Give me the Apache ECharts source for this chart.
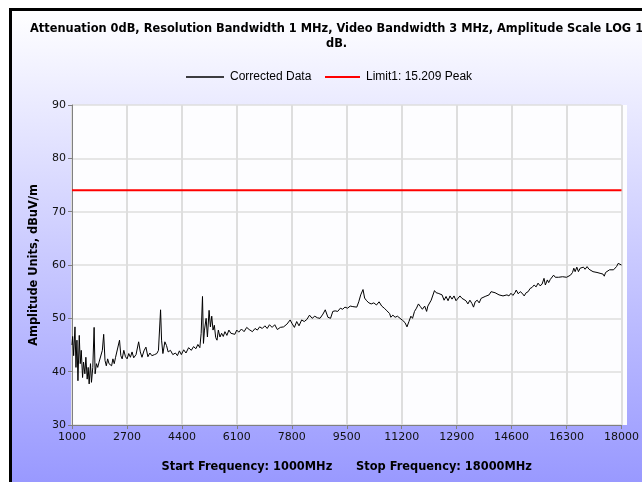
<!DOCTYPE html>
<html>
<head>
<meta charset="utf-8">
<script src="https://cdn.jsdelivr.net/npm/echarts@6/dist/echarts.min.js"></script>
<style>
html,body{margin:0;padding:0;background:#fff;}
#c{width:642px;height:483px;}
</style>
</head>
<body>
<div id="c"></div>
<script>
// ---- data ----
const START_MHZ = 1000;
const STOP_MHZ = 18000;
const freqMHz = [
1000,1020,1051,1092,1123,1153,1184,1225,1255,1286,1327,1357,1398,1429,1470,1500,1531,1572,1602,1643,
1684,1715,1756,1796,1837,1888,1939,1980,2021,2062,2103,2144,2184,2225,2266,2307,2348,2409,2470,2511,
2552,2603,2654,2705,2756,2807,2858,2909,2981,3062,3113,3165,3226,3287,3348,3410,3471,3553,3624,3675,
3740,3771,3812,3873,3924,3975,4046,4118,4200,4261,4322,4383,4455,4526,4608,4690,4761,4833,4894,4955,
4996,5037,5067,5098,5149,5190,5241,5282,5323,5363,5404,5445,5486,5527,5578,5629,5680,5731,5792,5854,
5915,5976,6037,6098,6160,6242,6323,6405,
6481,6582,6663,6734,6805,6887,6968,7039,7110,7191,7272,7353,7445,7546,7648,7749,7800,7881,7952,8023,
8105,8186,8267,8348,8429,8511,8592,8673,8764,8835,8917,8998,9069,9140,9221,9302,9373,9444,9526,9607,
9688,9749,9810,9871,9932,10003,10053,10114,10185,10256,10338,10419,10500,10581,10662,10744,10825,10865,10926,10997,
11068,11150,11231,11302,11363,11424,11484,11535,11596,11657,11718,11779,11840,11911,11971,
12009,12060,12112,12163,12214,12265,12327,12388,12449,12511,12572,12634,12695,12757,12818,12880,12941,13002,13064,13125,
13187,13248,13310,13371,13422,13473,13535,13596,13658,13719,13781,13842,13904,13965,14026,14088,14149,14211,14272,14334,
14395,14456,14518,14579,14641,14702,14743,14805,14866,14928,14989,15050,15112,15173,15235,15296,15358,15419,15480,15542,
15603,15644,15706,15747,15798,15849,15900,15952,16003,16054,16115,16177,16238,16300,16361,16423,16484,16525,16566,16617,
16668,16720,16771,16822,16873,16935,16996,17057,17119,17180,17242,17303,17364,17426,17467,17508,17569,17631,17692,17754,
17795,17846,17897,17948,18000
];
const correctedData = [
45,46.6,43,48.4,40.8,45.9,38.3,46.8,41.5,44,38.9,41.8,39.6,42.7,38.6,40.8,37.7,41.5,38,40.8,
48.3,39.6,41.5,40.8,41.8,41.5,44,47,42.1,41.1,42.4,41.5,41.8,41.1,42.4,41.5,42.7,42.4,45.9,43,
42.4,44,42.8,42.4,43.4,42.7,43.7,42.6,43.2,45.6,43.7,42.7,43.9,44.6,42.8,43.5,43,43.2,43.4,44,
51.6,45.9,43.4,45.6,44.9,43.7,44,43.2,43.5,43,43.9,43.2,44.1,43.5,44.5,44,44.7,44.3,45.1,44.5,
47.2,54.1,45.3,47.8,50,46.5,51.5,48.4,50.4,47.8,48.7,46.4,45.9,47.8,46.5,47.2,46.6,47.5,46.8,47.8,
47.2,47.5,47,47.8,47.4,48,47.5,48.3,
47.9,47.5,48.1,47.8,48.4,48.1,48.6,48.1,48.8,48.3,48.8,47.9,48.3,48.4,48.9,49.7,49.1,48.3,49.4,48.6,
49.7,49.4,49.8,50.6,50,50.4,50.1,50,50.8,51.6,50.2,50,51.3,51.4,51.3,51.9,51.7,52.1,51.9,52.3,
52.2,52.5,52.1,53.1,54.4,55.4,53.8,53.3,52.9,52.7,52.9,52.5,53.1,52.3,51.9,51.4,50.9,50.2,50.6,50.2,
50.4,50,49.6,49.2,48.4,49.4,50.4,50,51.3,51.9,52.7,52.2,51.7,52.3,51.3,
52.3,52.2,53.4,53.3,55.2,54.8,54.7,54.8,54.4,53.4,54.1,53.3,54.2,53.6,54.2,53.3,53.6,54.2,53.75,54.1,
53.3,52.7,53.4,52.8,52.1,53.1,53.4,52.9,53.75,53.4,54.1,53.75,54.4,55,54.7,54.8,54.6,54.4,54.6,54.2,
54.1,54.4,54.2,54.7,54.3,54.8,55.3,54.6,55,54.7,54.2,54.8,55,55.6,55.8,56.25,55.9,56.6,56.1,56.4,
57.5,56.25,57.2,56.7,57.3,57.2,58.1,57.7,57.9,57.7,57.5,57.8,57.5,57.7,57.9,58.1,58.6,59.4,58.75,59.6,
58.75,59.4,59.1,59.6,59.2,59.7,59.2,59.4,58.75,58.9,58.6,58.75,58.4,58.3,57.9,58.6,58.9,59.1,59.2,59.1,
59.4,59.7,60.3,60.2,60
];
const limitFreqMHz = [1000, 18000];
const limitValues = [74, 74];
const TICK_STEP_MHZ = 1700;
const Y_MIN = 30, Y_MAX = 90, Y_STEP = 10;

const titleLine1 = 'Attenuation 0dB, Resolution Bandwidth 1 MHz, Video Bandwidth 3 MHz, Amplitude Scale LOG 10';
const titleLine2 = 'dB.';
const seriesNames = ['Corrected Data', 'Limit1: 15.209 Peak'];
const xAxisTitle = 'Start Frequency: 1000MHz      Stop Frequency: 18000MHz';
const yAxisTitle = 'Amplitude Units, dBuV/m';

// x positions are offsets from the start frequency so ticks fall on 1000 + k*1700
const mainPts = freqMHz.map((f, i) => [f - START_MHZ, correctedData[i]]);
const limitPts = limitFreqMHz.map((f, i) => [f - START_MHZ, limitValues[i]]);

const chart = echarts.init(document.getElementById('c'), null, {renderer: 'canvas'});
const labelFont = {fontFamily: 'DejaVu Sans', fontSize: 11, color: '#111'};
const boldFont = {fontFamily: 'DejaVu Sans', fontWeight: 'bold', fontSize: 11.4, color: '#000'};
chart.setOption({
  animation: false,
  backgroundColor: '#ffffff',
  graphic: [
    {type: 'rect', z: -10, shape: {x: 10, y: 9, width: 640, height: 473},
     style: {fill: new echarts.graphic.LinearGradient(0, 0, 0, 1, [
       {offset: 0, color: '#ffffff'}, {offset: 1, color: '#9999ff'}])}},
    {type: 'rect', z: -10, shape: {x: 72, y: 105, width: 555, height: 320}, style: {fill: '#fdfdff'}},
    {type: 'rect', z: 10, shape: {x: 9, y: 8, width: 640, height: 3}, style: {fill: '#000'}},
    {type: 'rect', z: 10, shape: {x: 9, y: 8, width: 3, height: 474}, style: {fill: '#000'}}
  ],
  title: [
    {text: titleLine1, left: 25, top: 19, textStyle: boldFont},
    {text: titleLine2, left: 321, top: 34, textStyle: boldFont}
  ],
  legend: [
    {data: [seriesNames[0]], left: 181, top: 66, icon: 'rect', itemWidth: 38, itemHeight: 1.4, itemGap: 0,
     textStyle: {fontFamily: 'Liberation Sans', fontSize: 12, color: '#000', padding: [0, 0, 0, 1]}},
    {data: [seriesNames[1]], left: 320, top: 66, icon: 'rect', itemWidth: 35, itemHeight: 2, itemGap: 0,
     textStyle: {fontFamily: 'Liberation Sans', fontSize: 12, color: '#000', padding: [0, 0, 0, 1]}}
  ],
  grid: {left: 72, right: 15, top: 105, bottom: 58, containLabel: false},
  xAxis: {
    type: 'value', min: 0, max: STOP_MHZ - START_MHZ, interval: TICK_STEP_MHZ,
    name: xAxisTitle, nameLocation: 'middle', nameGap: 37,
    nameTextStyle: boldFont,
    axisLine: {show: true, lineStyle: {color: '#808080', width: 1}},
    axisTick: {show: true, length: 4, lineStyle: {color: '#808080'}},
    axisLabel: Object.assign({margin: 7, formatter: v => String(v + START_MHZ)}, labelFont),
    splitLine: {show: true, lineStyle: {color: '#dedede', width: 2}}
  },
  yAxis: {
    type: 'value', min: Y_MIN, max: Y_MAX, interval: Y_STEP,
    name: yAxisTitle, nameLocation: 'middle', nameGap: 32, nameRotate: 90,
    nameTextStyle: boldFont,
    axisLine: {show: true, lineStyle: {color: '#808080', width: 1}},
    axisTick: {show: true, length: 4, lineStyle: {color: '#808080'}},
    axisLabel: Object.assign({margin: 6}, labelFont),
    splitLine: {show: true, lineStyle: {color: '#dedede', width: 1.5}}
  },
  series: [
    {name: seriesNames[0], type: 'line', data: mainPts, showSymbol: false, symbol: 'none',
     lineStyle: {color: '#000', width: 1}, itemStyle: {color: '#000'}, z: 3},
    {name: seriesNames[1], type: 'line', data: limitPts, showSymbol: false, symbol: 'none',
     lineStyle: {color: '#ff0000', width: 2}, itemStyle: {color: '#ff0000'}, z: 4}
  ]
});
</script>
</body>
</html>
